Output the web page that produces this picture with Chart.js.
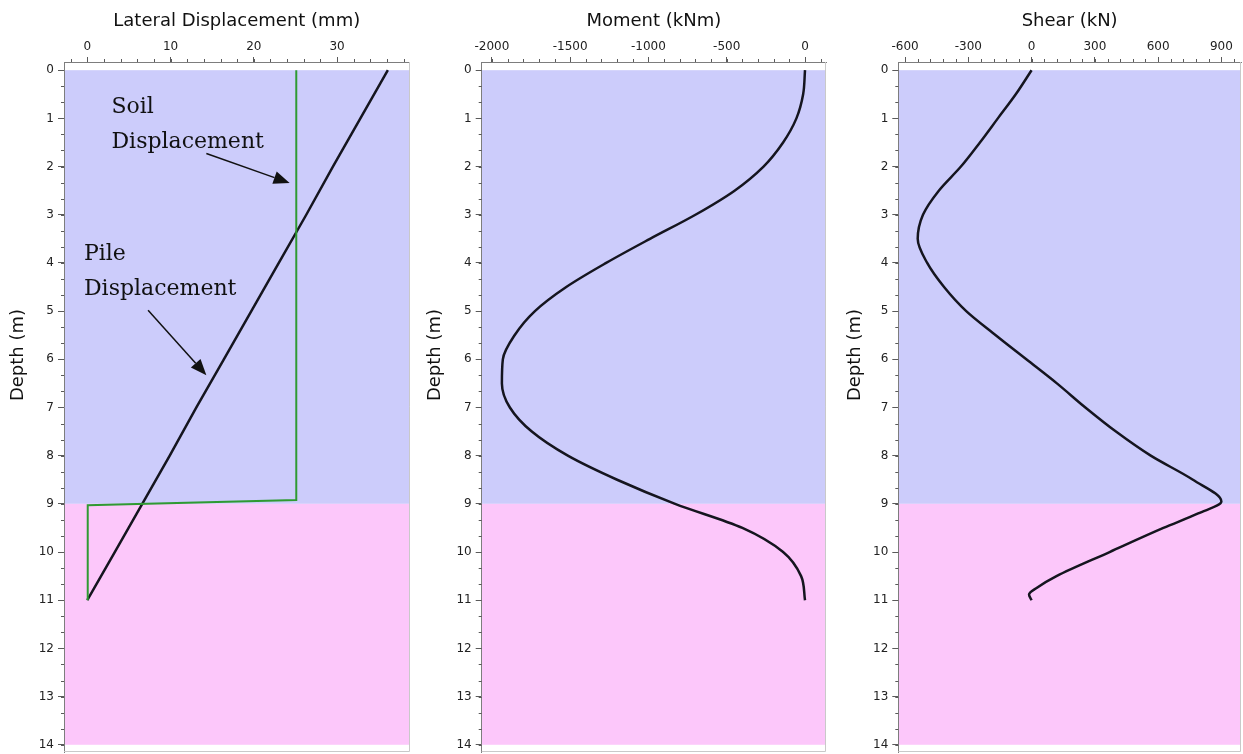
<!DOCTYPE html>
<html>
<head>
<meta charset="utf-8">
<script src="https://cdn.jsdelivr.net/npm/chart.js@4/dist/chart.umd.min.js"></script>
<style>
  html, body { margin: 0; padding: 0; background: #fff; }
  #wrap { position: relative; width: 1243px; height: 754px; overflow: hidden; }
  #wrap canvas { position: absolute; top: 0; }
</style>
</head>
<body>
<div id="wrap">
  <canvas id="dispChart" width="415" height="754" style="left:0px"></canvas>
  <canvas id="momentChart" width="415" height="754" style="left:415px"></canvas>
  <canvas id="shearChart" width="413" height="754" style="left:830px"></canvas>
</div>
<script>
// ---- Pile response with depth ----
const depthTicks = [0, 1, 2, 3, 4, 5, 6, 7, 8, 9, 10, 11, 12, 13, 14];

// Lateral displacement (mm)
const dispTicks = [0, 10, 20, 30];
const pileDepth = [0, 1, 2, 3, 4, 5, 6, 7, 8, 9, 10, 11];
const pileDisp  = [36.1, 32.8, 29.5, 26.3, 23.0, 19.7, 16.4, 13.1, 9.9, 6.6, 3.3, 0.0];
const soilDepth = [0, 8.92, 9.03, 11];
const soilDisp  = [25.1, 25.1, 0.05, 0.05];

// Bending moment (kNm)
const momentTicks = [-2000, -1500, -1000, -500, 0];
const momentDepth = [0, 0.5, 1, 1.5, 2, 2.5, 3, 3.5, 4, 4.5, 5, 5.5, 6, 6.5, 7, 7.5, 8, 8.5, 9, 9.5, 10, 10.5, 11];
const momentVals  = [0, -12, -55, -140, -265, -450, -700, -990, -1270, -1525, -1725, -1855, -1930, -1936, -1885, -1745, -1515, -1200, -830, -400, -140, -25, 0];

// Shear force (kN)
const shearTicks = [-600, -300, 0, 300, 600, 900];
const shearDepth = [0, 0.5, 1, 1.5, 2, 2.5, 3, 3.5, 4, 4.5, 5, 5.5, 6, 6.5, 7, 7.5, 8, 8.5, 8.95, 9.2, 9.5, 10, 10.5, 10.75, 10.88, 11];
const shearVals  = [0, -75, -160, -245, -335, -440, -515, -540, -495, -415, -310, -170, -25, 120, 255, 400, 565, 765, 900, 790, 625, 370, 118, 22, -12, 0];

// Soil layers (depth range, m)
const layerTop    = [0, 9];
const layerBottom = [9, 14];
const layerColors = ['rgb(204,204,251)', 'rgb(252,199,250)'];

// Callout labels on the displacement plot
const calloutLines = [['Soil', 'Displacement'], ['Pile', 'Displacement']];
const calloutTextX = [2.9, -0.4];
const calloutBaselines = [[0.89, 1.61], [3.94, 4.67]];
const arrowFrom = [[14.3, 1.73], [7.3, 4.98]];
const arrowTo   = [[24.3, 2.34], [14.3, 6.33]];

const pts = (xs, ys) => xs.map((v, i) => ({ x: v, y: ys[i] }));

const AXIS = '#7d7d7d';
const TICK = '#5a5a5a';
const LABEL = '#222222';
const SANS = '"DejaVu Sans", Verdana, sans-serif';

const layersPlugin = {
  id: 'layers',
  beforeDraw(chart) {
    const { ctx, chartArea: a, scales: { y } } = chart;
    ctx.save();
    layerTop.forEach((t, i) => {
      const y0 = y.getPixelForValue(t);
      const y1 = y.getPixelForValue(layerBottom[i]);
      ctx.fillStyle = layerColors[i];
      ctx.fillRect(a.left, y0, a.right - a.left, y1 - y0);
    });
    ctx.restore();
  }
};

const framePlugin = {
  id: 'frame',
  afterDraw(chart, args, o) {
    const { ctx, chartArea: a, scales: { x, y } } = chart;
    ctx.save();
    // light right / bottom edges of the plot box
    ctx.strokeStyle = '#c9c9c9';
    ctx.lineWidth = 1;
    ctx.beginPath();
    ctx.moveTo(Math.round(a.right) - 0.5, a.top);
    ctx.lineTo(Math.round(a.right) - 0.5, a.bottom - 0.5);
    ctx.lineTo(a.left, a.bottom - 0.5);
    ctx.stroke();
    // minor tick marks
    ctx.strokeStyle = TICK;
    ctx.beginPath();
    const n0 = Math.ceil(x.min / o.xMinor), n1 = Math.floor(x.max / o.xMinor);
    for (let k = n0; k <= n1; k++) {
      const px = Math.round(x.getPixelForValue(k * o.xMinor)) + 0.5;
      ctx.moveTo(px, a.top);
      ctx.lineTo(px, a.top - 3);
    }
    const m0 = Math.ceil(y.min * 3), m1 = Math.floor(y.max * 3);
    for (let k = m0; k <= m1; k++) {
      const py = Math.round(y.getPixelForValue(k / 3)) + 0.5;
      ctx.moveTo(a.left, py);
      ctx.lineTo(a.left - 3, py);
    }
    ctx.stroke();
    // depth axis title
    ctx.fillStyle = '#111';
    ctx.font = '18px ' + SANS;
    ctx.textAlign = 'center';
    ctx.textBaseline = 'middle';
    ctx.translate(a.left - o.titleOffset, 355);
    ctx.rotate(-Math.PI / 2);
    ctx.fillText('Depth (m)', 0, 0);
    ctx.restore();
  }
};

const calloutPlugin = {
  id: 'callouts',
  afterDatasetsDraw(chart) {
    const { ctx, scales: { x, y } } = chart;
    ctx.save();
    ctx.fillStyle = '#111';
    ctx.strokeStyle = '#111';
    ctx.font = '22px "DejaVu Serif", "Liberation Serif", serif';
    ctx.textBaseline = 'alphabetic';
    ctx.textAlign = 'left';
    calloutLines.forEach((lines, i) => {
      lines.forEach((t, j) => {
        ctx.fillText(t, x.getPixelForValue(calloutTextX[i]), y.getPixelForValue(calloutBaselines[i][j]));
      });
      const x0 = x.getPixelForValue(arrowFrom[i][0]), y0 = y.getPixelForValue(arrowFrom[i][1]);
      const x1 = x.getPixelForValue(arrowTo[i][0]), y1 = y.getPixelForValue(arrowTo[i][1]);
      const ang = Math.atan2(y1 - y0, x1 - x0);
      const L = 16, W = 6.5;
      const bx = x1 - L * Math.cos(ang), by = y1 - L * Math.sin(ang);
      ctx.lineWidth = 1.5;
      ctx.beginPath();
      ctx.moveTo(x0, y0);
      ctx.lineTo(bx, by);
      ctx.stroke();
      ctx.beginPath();
      ctx.moveTo(x1, y1);
      ctx.lineTo(bx + W * Math.sin(ang), by - W * Math.cos(ang));
      ctx.lineTo(bx - W * Math.sin(ang), by + W * Math.cos(ang));
      ctx.closePath();
      ctx.fill();
    });
    ctx.restore();
  }
};

function makePanel(id, cfg) {
  const canvas = document.getElementById(id);
  const W = canvas.width;
  return new Chart(canvas, {
    type: 'line',
    data: { datasets: cfg.datasets },
    plugins: [layersPlugin, framePlugin].concat(cfg.extraPlugins || []),
    options: {
      responsive: false,
      animation: false,
      devicePixelRatio: 1,
      indexAxis: 'y',
      layout: { padding: { left: 0, top: 0, right: W - cfg.areaRight, bottom: 2 } },
      elements: { point: { radius: 0, hoverRadius: 0 } },
      plugins: {
        legend: { display: false },
        tooltip: { enabled: false },
        frame: { xMinor: cfg.xMinor, titleOffset: cfg.titleOffset }
      },
      events: [],
      scales: {
        x: {
          type: 'linear',
          position: 'top',
          min: cfg.xMin,
          max: cfg.xMax,
          afterBuildTicks: s => { s.ticks = cfg.xTicks.map(v => ({ value: v })); },
          afterFit: s => { s.height = 62; s.paddingLeft = 0; s.paddingRight = 0; },
          grid: { drawOnChartArea: false, tickLength: 5, color: TICK },
          border: { color: AXIS, width: 1 },
          ticks: { font: { family: SANS, size: 12 }, color: LABEL, padding: 3, maxRotation: 0, autoSkip: false, callback: v => String(v) },
          title: { display: true, text: cfg.title, color: '#111', font: { family: SANS, size: 18 }, padding: { top: 11, bottom: 0 } }
        },
        y: {
          type: 'linear',
          reverse: true,
          min: -0.17,
          max: 14.15,
          afterBuildTicks: s => { s.ticks = depthTicks.map(v => ({ value: v })); },
          afterFit: s => { s.width = cfg.areaLeft; s.paddingTop = 0; s.paddingBottom = 0; },
          grid: { drawOnChartArea: false, tickLength: 6, color: TICK },
          border: { color: AXIS, width: 1 },
          ticks: { font: { family: SANS, size: 12 }, color: LABEL, padding: 4, autoSkip: false, callback: v => String(v) }
        }
      }
    }
  });
}

makePanel('dispChart', {
  title: 'Lateral Displacement (mm)',
  areaLeft: 64, areaRight: 409.5,
  xMin: -2.8, xMax: 38.7, xTicks: dispTicks, xMinor: 2,
  titleOffset: 46,
  datasets: [
    { data: pts(soilDisp, soilDepth), borderColor: '#2f9a32', borderWidth: 2, tension: 0, fill: false },
    { data: pts(pileDisp, pileDepth), borderColor: '#15151f', borderWidth: 2.5, tension: 0, fill: false }
  ],
  extraPlugins: [calloutPlugin]
});

makePanel('momentChart', {
  title: 'Moment (kNm)',
  areaLeft: 66.7, areaRight: 411,
  xMin: -2065, xMax: 134, xTicks: momentTicks, xMinor: 100,
  titleOffset: 46.7,
  datasets: [
    { data: pts(momentVals, momentDepth), borderColor: '#15151f', borderWidth: 2.5, cubicInterpolationMode: 'monotone', fill: false }
  ]
});

makePanel('shearChart', {
  title: 'Shear (kN)',
  areaLeft: 68.3, areaRight: 411,
  xMin: -632, xMax: 993, xTicks: shearTicks, xMinor: 60,
  titleOffset: 43,
  datasets: [
    { data: pts(shearVals, shearDepth), borderColor: '#15151f', borderWidth: 2.5, cubicInterpolationMode: 'monotone', fill: false }
  ]
});
</script>
</body>
</html>
